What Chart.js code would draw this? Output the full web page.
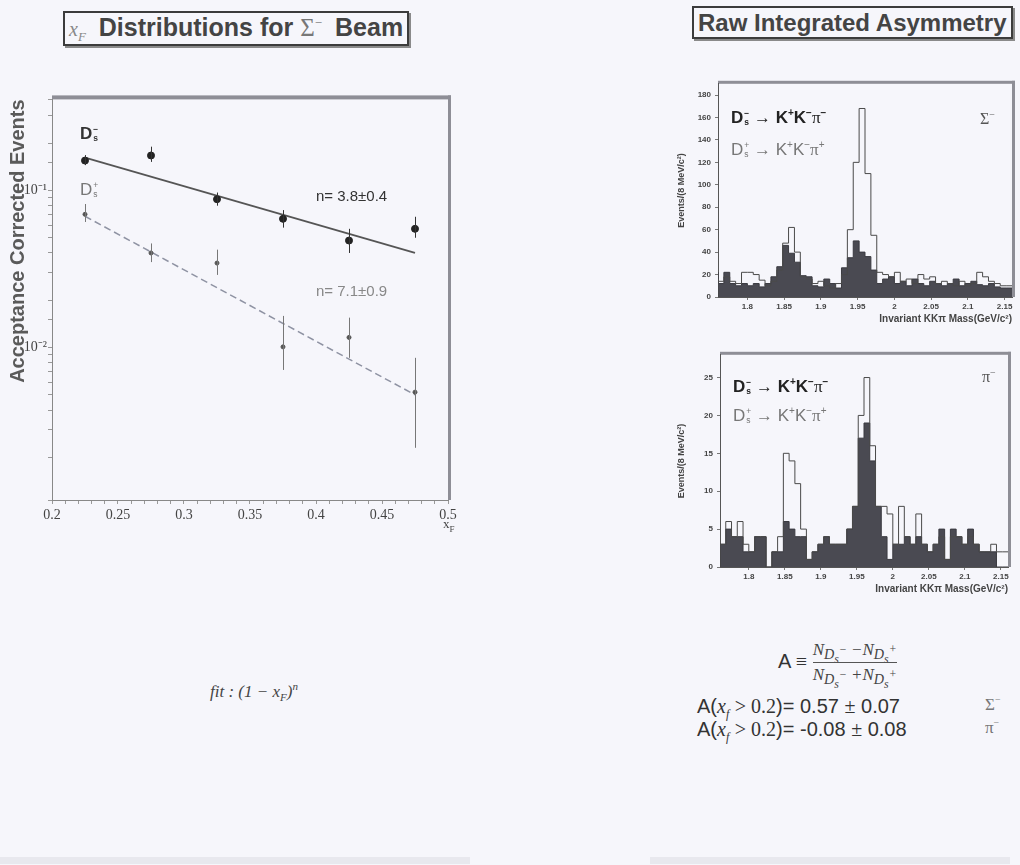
<!DOCTYPE html>
<html>
<head>
<meta charset="utf-8">
<script src="https://cdn.jsdelivr.net/npm/chart.js@4.4.1/dist/chart.umd.min.js"></script>
<style>
  body { margin: 0; background: #f6f6fb; }
  #page { position: relative; width: 1020px; height: 865px; overflow: hidden; background: #f6f6fb;
          font-family: "Liberation Sans", Arial, sans-serif; color: #333; }
  canvas { position: absolute; }
  sub, sup { line-height: 0; }
  .abs { position: absolute; white-space: nowrap; }
  .titlebox { position: absolute; border: 2px solid #3c3c3c; box-shadow: 2px 2px 0 #8a8a8a;
              font-weight: bold; line-height: 29px; color: #444; padding: 0 4px; white-space: nowrap; }
  .serif { font-family: "Liberation Serif", "DejaVu Serif", serif; font-weight: normal; }
  .it { font-style: italic; }
  .ds { display: inline-block; }
  .ss { display: inline-flex; flex-direction: column; font-size: 0.5em; line-height: 1.05;
        vertical-align: 0.8em; margin-left: 1px; }
  .frac { display: inline-flex; flex-direction: column; vertical-align: middle; font-size: 17px;
          text-align: center; font-family: "Liberation Serif", serif; font-style: italic; color: #444; }
  .frac .den { border-top: 1px solid #555; padding-top: 2px; }
  .frac .num { padding-bottom: 2px; }
  .gap { display: inline-block; width: 6px; }
  .strip { position: absolute; height: 7px; background: #e8e8ee; }
</style>
</head>
<body>
<div id="page">
  <div class="titlebox" style="left:63px; top:11px; font-size:25px;">
    <span class="serif it" style="font-size:20px;color:#888">x<sub style="font-size:13px">F</sub></span><span class="gap"></span>
    Distributions for <span class="serif" style="color:#777">Σ<sup style="font-size:13px">−</sup></span><span class="gap"></span> Beam
  </div>
  <div class="titlebox" style="left:692px; top:6px; padding:0 4px; font-size:24px;">Raw Integrated Asymmetry</div>

  <canvas id="xfChart" width="480" height="460" style="left:0; top:90px;"></canvas>
  <canvas id="sigmaChart" width="348" height="250" style="left:672px; top:75px;"></canvas>
  <canvas id="piChart" width="348" height="249" style="left:672px; top:346px;"></canvas>

  <!-- left plot annotations -->
  <div class="abs" style="left:80px; top:124px; font-size:17px; font-weight:bold; color:#333">
    <span class="ds">D<span class="ss"><span>−</span><span>s</span></span></span></div>
  <div class="abs" style="left:80px; top:180px; font-size:17px; color:#777">
    <span class="ds">D<span class="ss"><span>+</span><span>s</span></span></span></div>
  <div class="abs" style="left:316px; top:187px; font-size:15px; color:#333">n= 3.8±0.4</div>
  <div class="abs" style="left:316px; top:282px; font-size:15px; color:#888">n= 7.1±0.9</div>
  <div class="abs serif" style="left:443px; top:516px; font-size:13px; color:#444">x<sub style="font-size:9px">F</sub></div>
  <div class="abs serif it" style="left:210px; top:682px; font-size:17px; color:#444">fit : (1 − x<sub style="font-size:11px">F</sub>)<sup style="font-size:11px">n</sup></div>

  <!-- histogram annotations -->
  <div class="abs" style="left:731px; top:108px; font-size:17px; font-weight:bold; color:#222">
    <span class="ds">D<span class="ss"><span>−</span><span>s</span></span></span> → K<sup style="font-size:10px">+</sup>K<sup style="font-size:10px">−</sup><span class="serif">π</span><sup style="font-size:10px">−</sup></div>
  <div class="abs" style="left:731px; top:140px; font-size:17px; color:#777">
    <span class="ds">D<span class="ss"><span>+</span><span>s</span></span></span> → K<sup style="font-size:10px">+</sup>K<sup style="font-size:10px">−</sup><span class="serif">π</span><sup style="font-size:10px">+</sup></div>
  <div class="abs serif" style="left:980px; top:110px; font-size:16px; color:#555">Σ<sup style="font-size:10px">−</sup></div>

  <div class="abs" style="left:733px; top:377px; font-size:17px; font-weight:bold; color:#222">
    <span class="ds">D<span class="ss"><span>−</span><span>s</span></span></span> → K<sup style="font-size:10px">+</sup>K<sup style="font-size:10px">−</sup><span class="serif">π</span><sup style="font-size:10px">−</sup></div>
  <div class="abs" style="left:733px; top:406px; font-size:17px; color:#777">
    <span class="ds">D<span class="ss"><span>+</span><span>s</span></span></span> → K<sup style="font-size:10px">+</sup>K<sup style="font-size:10px">−</sup><span class="serif">π</span><sup style="font-size:10px">+</sup></div>
  <div class="abs serif" style="left:982px; top:368px; font-size:16px; color:#555">π<sup style="font-size:10px">−</sup></div>

  <!-- asymmetry formula -->
  <div class="abs" style="left:778px; top:640px; font-size:20px; color:#333">A <span class="serif">≡</span>
    <span class="frac">
      <span class="num">N<sub>D<sub>s</sub><sup>−</sup></sub> −N<sub>D<sub>s</sub><sup>+</sup></sub></span>
      <span class="den">N<sub>D<sub>s</sub><sup>−</sup></sub> +N<sub>D<sub>s</sub><sup>+</sup></sub></span>
    </span>
  </div>
  <div class="abs" style="left:697px; top:695px; font-size:20px; color:#333">A(<span class="serif it">x<sub style="font-size:12px">f</sub></span> <span class="serif">&gt; 0.2</span>)= 0.57 <span class="serif">±</span> 0.07</div>
  <div class="abs serif" style="left:985px; top:695px; font-size:17px; color:#777">Σ<sup style="font-size:10px">−</sup></div>
  <div class="abs" style="left:697px; top:718px; font-size:20px; color:#333">A(<span class="serif it">x<sub style="font-size:12px">f</sub></span> <span class="serif">&gt; 0.2</span>)= -0.08 <span class="serif">±</span> 0.08</div>
  <div class="abs serif" style="left:985px; top:718px; font-size:17px; color:#777">π<sup style="font-size:10px">−</sup></div>

  <div class="strip" style="left:0; top:857px; width:470px;"></div>
  <div class="strip" style="left:650px; top:857px; width:360px;"></div>
</div>

<script>
// x_F distributions (Sigma- beam)
const xfBins = [0.225, 0.275, 0.325, 0.375, 0.425, 0.475];
const dsMinus = [0.155, 0.167, 0.088, 0.066, 0.048, 0.057];
const dsMinusLo = [0.145, 0.152, 0.080, 0.058, 0.040, 0.050];
const dsMinusHi = [0.168, 0.190, 0.097, 0.075, 0.057, 0.068];
const dsPlus = [0.0705, 0.040, 0.0345, 0.0101, 0.0116, 0.0052];
const dsPlusLo = [0.063, 0.035, 0.029, 0.0072, 0.0086, 0.0023];
const dsPlusHi = [0.082, 0.046, 0.042, 0.0159, 0.0155, 0.0086];
const fitX = [0.225, 0.475];
const fitMinus = [0.162, 0.040];
const fitPlus = [0.0685, 0.0050];
const xfTicks = [0.2, 0.25, 0.3, 0.35, 0.4, 0.45, 0.5];
const decadeLabels = { '-1': '10⁻¹', '-2': '10⁻²' };

// invariant mass histograms, 8 MeV bins from 1.76 GeV
const massLow = 1.76;
const binWidth = 0.008;
const massTicks = [1.8, 1.85, 1.9, 1.95, 2, 2.05, 2.1, 2.15];
const sigmaYTicks = [0, 20, 40, 60, 80, 100, 120, 140, 160, 180];
const piYTicks = [0, 5, 10, 15, 20, 25];
const sigmaOpen = [16, 14, 18, 14, 12, 22, 22, 20, 15, 10, 14, 24, 48, 62, 40, 18, 16, 12, 14, 10,
                   8, 12, 20, 60, 120, 168, 110, 55, 22, 20, 18, 22, 14, 16, 12, 20, 16, 18, 12, 14,
                   12, 10, 14, 10, 12, 22, 18, 14, 12, 10];
const sigmaFilled = [22, 12, 22, 12, 10, 12, 10, 12, 9, 12, 18, 27, 46, 39, 31, 19, 18, 10, 9, 16,
                     12, 8, 26, 35, 50, 40, 36, 24, 12, 16, 18, 12, 14, 10, 16, 12, 10, 14, 12, 10,
                     12, 16, 10, 12, 14, 11, 10, 12, 9, 8];
const piOpen = [3, 3, 6, 4, 6, 3, 2, 4, 4, 0, 2, 4, 15, 14, 11, 5, 1, 2, 3, 4,
                3, 3, 3, 5, 8, 20, 25, 16, 8, 8, 7, 3, 8, 4, 3, 7, 3, 2, 3, 4,
                1, 4, 4, 3, 4, 3, 2, 2, 3, 2];
const piFilled = [3, 3, 5, 4, 4, 2, 2, 4, 4, 0, 2, 2, 6, 5, 4, 4, 1, 2, 3, 4,
                  3, 3, 3, 5, 8, 17, 19, 14, 8, 4, 1, 3, 3, 4, 3, 4, 3, 2, 3, 5,
                  1, 5, 4, 3, 5, 3, 2, 2, 2, 0];

Chart.defaults.animation = false;
Chart.defaults.plugins.legend.display = false;
Chart.defaults.plugins.tooltip.enabled = false;

// grey frame round the plot area, heavier on top and right like the scanned plots
function frame(topW, rightW) {
    return {
        id: 'frame',
        beforeDraw(chart) {
            const a = chart.chartArea, ctx = chart.ctx;
            ctx.save();
            ctx.fillStyle = '#8e8e96';
            ctx.fillRect(a.left, a.top - topW, a.right - a.left + rightW, topW);
            ctx.fillRect(a.right, a.top - topW, rightW, a.bottom - a.top + topW);
            ctx.restore();
        }
    };
}

const errorBars = {
    id: 'errorBars',
    afterDatasetsDraw(chart) {
        const ctx = chart.ctx, x = chart.scales.x, y = chart.scales.y;
        const sets = [[dsMinusLo, dsMinusHi, '#333'], [dsPlusLo, dsPlusHi, '#777']];
        ctx.save();
        ctx.lineWidth = 1;
        sets.forEach(([lo, hi, color]) => {
            ctx.strokeStyle = color;
            lo.forEach((v, i) => {
                const px = Math.round(x.getPixelForValue(xfBins[i])) + 0.5;
                ctx.beginPath();
                ctx.moveTo(px, y.getPixelForValue(v));
                ctx.lineTo(px, y.getPixelForValue(hi[i]));
                ctx.stroke();
            });
        });
        ctx.restore();
    }
};

const pts = (xs, ys) => xs.map((x, i) => ({ x: x, y: ys[i] }));
const near = (list, v) => list.some(t => Math.abs(t - v) < 1e-6);

new Chart(document.getElementById('xfChart'), {
    type: 'scatter',
    data: {
        datasets: [
            { data: pts(xfBins, dsMinus), pointRadius: 3.5, pointBackgroundColor: '#222', pointBorderColor: '#222' },
            { data: pts(xfBins, dsPlus), pointRadius: 2, pointBackgroundColor: '#555', pointBorderColor: '#555' },
            { data: pts(fitX, fitMinus), showLine: true, pointRadius: 0, borderColor: '#555', borderWidth: 1.8 },
            { data: pts(fitX, fitPlus), showLine: true, pointRadius: 0, borderColor: '#8f93a3', borderWidth: 1.5, borderDash: [7, 4] }
        ]
    },
    options: {
        responsive: false,
        layout: { padding: { top: 7, right: 32, left: 0, bottom: 0 } },
        scales: {
            x: {
                type: 'linear', min: 0.2, max: 0.5,
                afterFit: s => { s.height = 50; },
                afterBuildTicks: s => {
                    const t = [];
                    for (let k = 20; k <= 50; k++) t.push({ value: k / 100 });
                    s.ticks = t;
                },
                grid: { drawOnChartArea: false, tickLength: 4, color: '#999' },
                border: { color: '#888' },
                ticks: {
                    autoSkip: false, maxRotation: 0, color: '#444',
                    font: { family: 'Liberation Serif', size: 14 },
                    callback: v => near(xfTicks, v) ? String(+v.toFixed(2)) : ''
                }
            },
            y: {
                type: 'logarithmic', min: 0.00107, max: 0.38,
                afterFit: s => { s.width = 52; },
                grid: { drawOnChartArea: false, tickLength: 4, color: '#999' },
                border: { color: '#888' },
                title: {
                    display: true, text: 'Acceptance Corrected Events', align: 'end', color: '#5a5a5a',
                    font: { family: 'Liberation Sans', size: 20, weight: 'bold' }, padding: { top: 6, bottom: 0 }
                },
                ticks: {
                    autoSkip: false, color: '#444', padding: 1,
                    font: { family: 'Liberation Serif', size: 14 },
                    callback: v => {
                        const e = Math.log10(v);
                        return Math.abs(e - Math.round(e)) < 1e-6 ? (decadeLabels[Math.round(e)] || '') : '';
                    }
                }
            }
        }
    },
    plugins: [frame(4, 3), errorBars]
});

// histogram as a stepped line through bin edges
function steps(counts) {
    const p = counts.map((c, i) => ({ x: massLow + i * binWidth, y: c }));
    p.unshift({ x: massLow, y: 0 });
    p.push({ x: massLow + counts.length * binWidth, y: counts[counts.length - 1] });
    return p;
}

function massChart(id, open, filled, yMax, yTicks, yAxisW, rightPad) {
    return new Chart(document.getElementById(id), {
        type: 'line',
        data: {
            datasets: [
                { data: steps(open), stepped: 'after', borderColor: '#4a4a4a', borderWidth: 1, pointRadius: 0, fill: false },
                { data: steps(filled), stepped: 'after', borderColor: '#3a3a40', borderWidth: 1, pointRadius: 0,
                  fill: 'origin', backgroundColor: '#4a4a52' }
            ]
        },
        options: {
            responsive: false,
            layout: { padding: { top: 7, right: rightPad, left: 0, bottom: 0 } },
            scales: {
                x: {
                    type: 'linear', min: massLow, max: massLow + open.length * binWidth,
                    afterFit: s => { s.height = 28; },
                    afterBuildTicks: s => { s.ticks = massTicks.map(v => ({ value: v })); },
                    grid: { drawOnChartArea: false, tickLength: 3, color: '#777' },
                    border: { color: '#555' },
                    title: {
                        display: true, text: 'Invariant KKπ Mass(GeV/c²)', align: 'end', color: '#444',
                        font: { family: 'Liberation Sans', size: 10, weight: 'bold' }, padding: { top: 0, bottom: 0 }
                    },
                    ticks: {
                        autoSkip: false, maxRotation: 0, color: '#444', padding: 2,
                        font: { family: 'Liberation Sans', size: 8, weight: 'bold' },
                        callback: v => String(+v.toFixed(2))
                    }
                },
                y: {
                    min: 0, max: yMax,
                    afterFit: s => { s.width = yAxisW; },
                    afterBuildTicks: s => { s.ticks = yTicks.map(v => ({ value: v })); },
                    grid: { drawOnChartArea: false, tickLength: 3, color: '#777' },
                    border: { color: '#555' },
                    title: {
                        display: true, text: 'Events/(8 MeV/c²)', color: '#444',
                        font: { family: 'Liberation Sans', size: 9, weight: 'bold' }, padding: { top: 4, bottom: 0 }
                    },
                    ticks: {
                        color: '#444', padding: 4,
                        font: { family: 'Liberation Sans', size: 8, weight: 'bold' }
                    }
                }
            }
        },
        plugins: [frame(3, 3)]
    });
}

massChart('sigmaChart', sigmaOpen, sigmaFilled, 190, sigmaYTicks, 46, 8);
massChart('piChart', piOpen, piFilled, 28, piYTicks, 48, 12);
</script>
</body>
</html>
